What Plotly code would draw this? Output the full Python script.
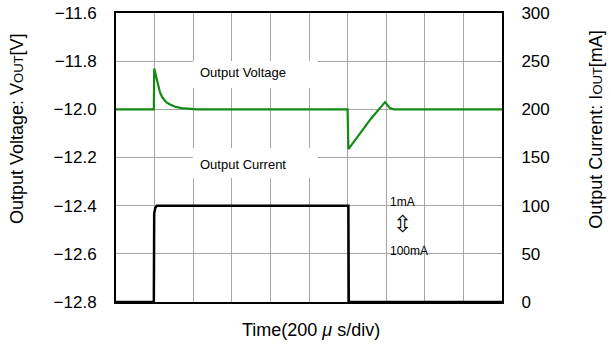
import plotly.graph_objects as go

# time in divisions (200 us/div)
v_time = [0, 0.98, 0.99, 1.04, 1.08, 1.14, 1.2, 1.3, 1.4, 1.55, 1.7, 1.9, 2.1,
          6.0, 6.02, 6.3, 6.6, 6.97, 7.1, 7.2, 7.6, 8.0, 8.6, 9.2, 10]
v_out = [-12.0, -12.0, -11.83, -11.86, -11.89, -11.93, -11.95, -11.97, -11.98,
         -11.99, -11.995, -11.998, -12.0,
         -12.0, -12.165, -12.105, -12.04, -11.97, -11.995, -12.0, -12.0, -12.0,
         -12.0, -12.0, -12.0]

i_time = [0, 0.98, 0.99, 1.02, 1.06, 6.02, 6.03, 10]
i_out = [0, 0, 92, 98, 100, 100, 0, 0]

v_ticks = [-11.6, -11.8, -12.0, -12.2, -12.4, -12.6, -12.8]
i_ticks = [0, 50, 100, 150, 200, 250, 300]

FONT = "Liberation Sans, Arial, sans-serif"

fig = go.Figure()
fig.add_trace(go.Scatter(x=i_time, y=i_out, yaxis="y2", mode="lines",
                         line=dict(color="black", width=2.5), showlegend=False))
fig.add_trace(go.Scatter(x=v_time, y=v_out, mode="lines",
                         line=dict(color="#148a14", width=2.2), showlegend=False))

fig.update_layout(
    template="none",
    width=611, height=349,
    margin=dict(l=116, r=109, t=13, b=47, autoexpand=False),
    paper_bgcolor="white", plot_bgcolor="white",
    font=dict(family=FONT, color="black"),
    xaxis=dict(range=[0, 10], dtick=1, showticklabels=False, showgrid=True,
               gridcolor="#a6a6a6", gridwidth=1, zeroline=False, ticks="",
               automargin=False,
               showline=True, linecolor="black", linewidth=2, mirror=True),
    yaxis=dict(range=[-12.8, -11.6], tickvals=v_ticks, tickformat=".1f",
               showgrid=True, gridcolor="#a6a6a6", gridwidth=1, zeroline=False,
               showline=True, linecolor="black", linewidth=2, ticks="",
               automargin=False,
               tickfont=dict(size=17, family=FONT), ticklabelstandoff=14,
               ticklabeloverflow="allow"),
    yaxis2=dict(range=[0, 300], tickvals=i_ticks, overlaying="y", side="right",
                showgrid=False, zeroline=False, showline=True, linecolor="black",
                linewidth=2, ticks="", automargin=False,
                tickfont=dict(size=17, family=FONT),
                ticklabelstandoff=14, ticklabeloverflow="allow"),
)

# white label boxes
fig.add_shape(type="rect", xref="x", yref="y", x0=1.99, x1=5.23, y0=-11.911, y1=-11.799,
              fillcolor="white", line=dict(width=0), layer="between")
fig.add_shape(type="rect", xref="x", yref="y", x0=1.99, x1=5.23, y0=-12.285, y1=-12.161,
              fillcolor="white", line=dict(width=0), layer="between")

fig.add_annotation(x=2.12, y=-11.845, xref="x", yref="y", text="Output Voltage",
                   showarrow=False, xanchor="left", yanchor="middle",
                   font=dict(size=13, family=FONT))
fig.add_annotation(x=2.12, y=-12.227, xref="x", yref="y", text="Output Current",
                   showarrow=False, xanchor="left", yanchor="middle",
                   font=dict(size=13, family=FONT))
fig.add_annotation(x=7.05, y=-12.384, xref="x", yref="y", text="1mA",
                   showarrow=False, xanchor="left", yanchor="middle",
                   font=dict(size=12, family=FONT))
fig.add_annotation(x=7.41, y=-12.478, xref="x", yref="y", text="⇳",
                   showarrow=False, xanchor="center", yanchor="middle",
                   font=dict(size=23, family="DejaVu Sans"))
fig.add_annotation(x=7.05, y=-12.588, xref="x", yref="y", text="100mA",
                   showarrow=False, xanchor="left", yanchor="middle",
                   font=dict(size=12, family=FONT))

# axis titles
fig.add_annotation(x=-0.256, y=0.599, xref="paper", yref="paper", textangle=-90,
                   xanchor="center", yanchor="middle",
                   text="Output Voltage: V<span style='font-size:13px'>OUT</span>[V]",
                   showarrow=False, font=dict(size=18, family=FONT))
fig.add_annotation(x=1.243, y=0.599, xref="paper", yref="paper", textangle=-90,
                   xanchor="center", yanchor="middle",
                   text="Output Current: I<span style='font-size:13px'>OUT</span>[mA]",
                   showarrow=False, font=dict(size=18, family=FONT))
fig.add_annotation(x=0.505, y=-0.097, xref="paper", yref="paper",
                   xanchor="center", yanchor="middle",
                   text="Time(200 <i>μ</i> s/div)",
                   showarrow=False, font=dict(size=18, family=FONT))

fig.write_html("out.html", config={"displayModeBar": False},
               post_script="document.body.style.margin='0';")
